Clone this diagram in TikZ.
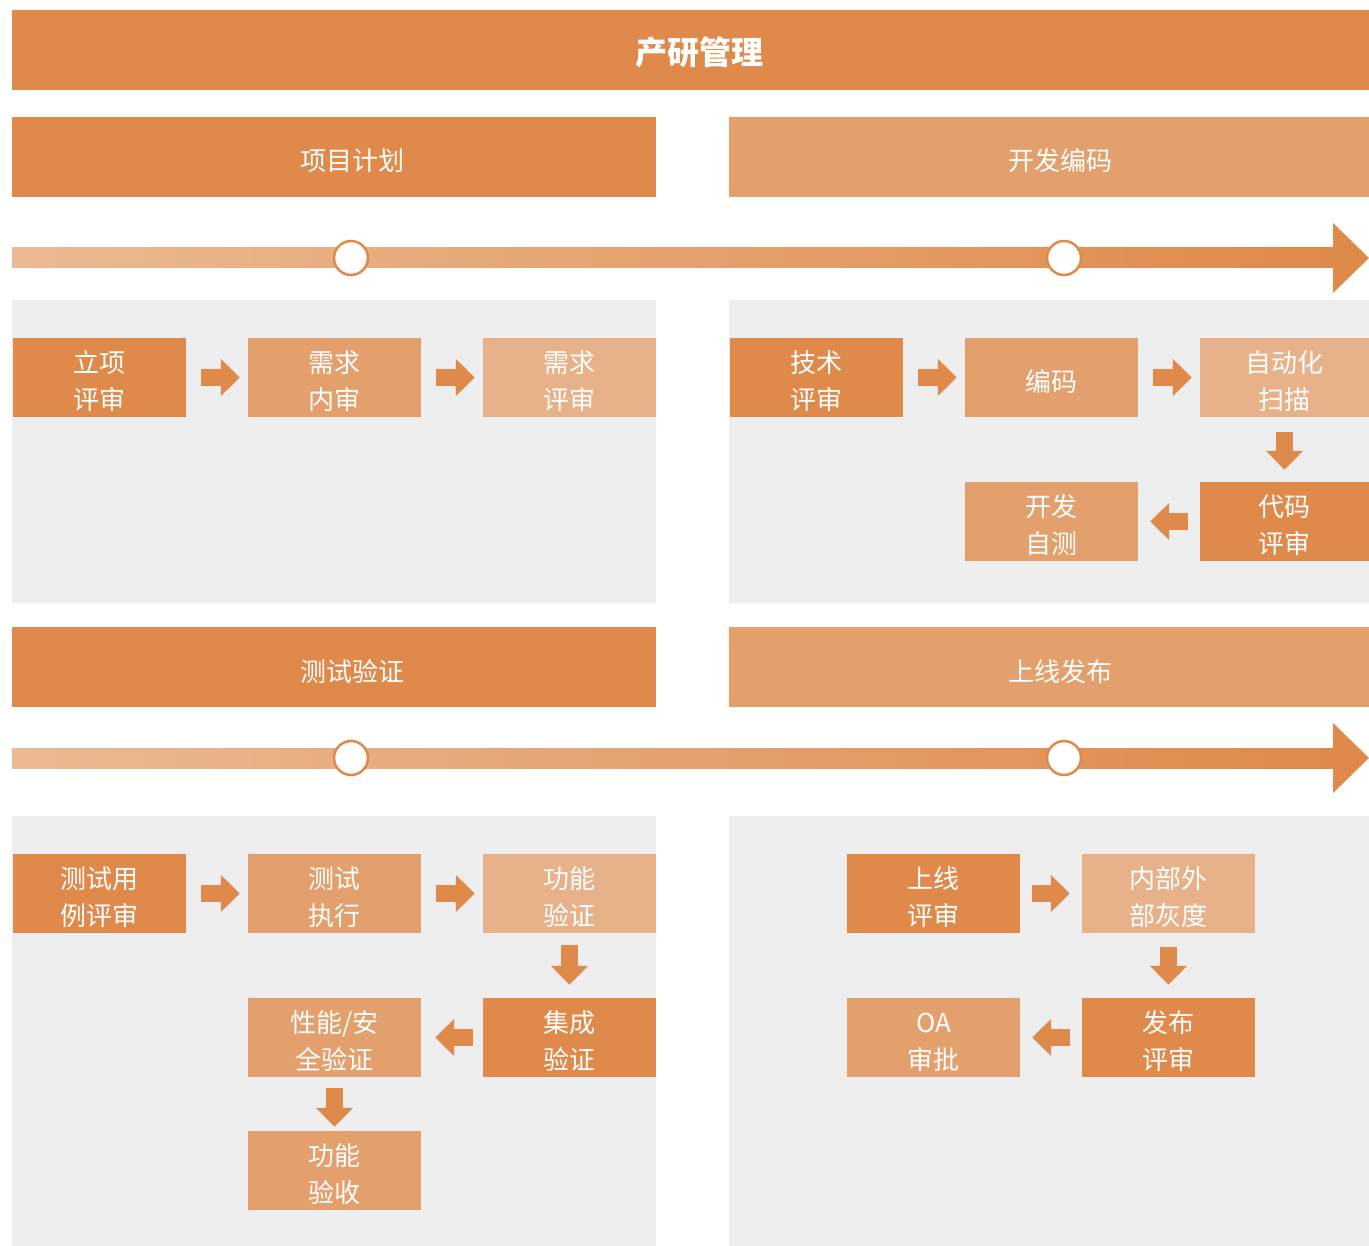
\documentclass[tikz,border=0pt]{standalone}
\usepackage{fontspec}
\setmainfont{Noto Sans CJK SC}
\usetikzlibrary{arrows.meta}
\definecolor{darkorg}{HTML}{DF8A4B}
\definecolor{midorg}{HTML}{E3A06D}
\definecolor{lightorg}{HTML}{E7B28A}
\definecolor{paleorg}{HTML}{EBB993}
\definecolor{panelgray}{HTML}{EEEEEE}
\begin{document}
\begin{tikzpicture}[x=1pt,y=-1pt,
    box/.style={minimum width=173pt,minimum height=79pt,inner sep=0pt,
      text=white,align=center,font=\fontsize{26}{37}\selectfont,
      text height=64pt,text depth=0pt},
    head/.style={minimum width=644pt,minimum height=80pt,inner sep=0pt,
      text=white,font=\fontsize{26}{32}\selectfont,
      text height=28pt,text depth=0pt},
    mark node/.style={circle,draw=darkorg,fill=white,line width=2.5pt,
      minimum size=34pt,inner sep=0pt},
    flow/.style={draw=darkorg,line width=17pt,
      -{Triangle[length=19pt,width=36pt]},shorten <=15pt,shorten >=8pt}]

  \useasboundingbox (0,0) rectangle (1369,1246);

  % title
  \node[fill=darkorg,minimum width=1357pt,minimum height=80pt,inner sep=0pt,
    text=white,font=\fontsize{32}{38}\selectfont\bfseries,
    text height=29pt,text depth=0pt] (title) at (690.5,50) {\hspace*{18pt}产研管理};

  % grey panels
  \fill[panelgray] (12,300) rectangle (656,603);
  \fill[panelgray] (729,300) rectangle (1369,603);
  \fill[panelgray] (12,816) rectangle (656,1246);
  \fill[panelgray] (729,816) rectangle (1369,1246);

  % timelines
  \foreach \y in {258,758} {
    \shade[left color=paleorg,right color=darkorg] (12,\y-10) rectangle (1334,\y+10);
    \fill[darkorg] (1333,\y-35) -- (1369,\y) -- (1333,\y+35) -- cycle;
  }
  \node[mark node] (m1) at (351,258) {};
  \node[mark node] (m2) at (1064,258) {};
  \node[mark node] (m3) at (351,758) {};
  \node[mark node] (m4) at (1064,758) {};

  % section heads
  \node[head,fill=darkorg] (plan)    at (334,157)    {\hspace*{36pt}项目计划};
  \node[head,fill=midorg,minimum width=640pt] (coding)  at (1049,157) {\hspace*{22pt}开发编码};
  \node[head,fill=darkorg] (testing) at (334,667)    {\hspace*{36pt}测试验证};
  \node[head,fill=midorg,minimum width=640pt] (release) at (1049,667) {\hspace*{22pt}上线发布};

  % project plan
  \node[box,fill=darkorg]  (lixiang)    at (99.5,377.5)  {立项\\评审};
  \node[box,fill=midorg]   (xqneishen)  at (334.5,377.5) {需求\\内审};
  \node[box,fill=lightorg] (xqpingshen) at (569.5,377.5) {需求\\评审};

  % coding
  \node[box,fill=darkorg]  (jishu)   at (816.5,377.5)  {技术\\评审};
  \node[box,fill=midorg,text height=28pt]   (bianma)  at (1051.5,377.5) {编码};
  \node[box,fill=lightorg,minimum width=169pt] (saomiao) at (1284.5,377.5) {自动化\\扫描};
  \node[box,fill=darkorg,minimum width=169pt]  (daima)   at (1284.5,521.5) {代码\\评审};
  \node[box,fill=midorg]   (zice)    at (1051.5,521.5) {开发\\自测};

  % testing
  \node[box,fill=darkorg]  (csyongli)   at (99.5,893.5)   {测试用\\例评审};
  \node[box,fill=midorg]   (cszhixing)  at (334.5,893.5)  {测试\\执行};
  \node[box,fill=lightorg] (gnyanzheng) at (569.5,893.5)  {功能\\验证};
  \node[box,fill=darkorg]  (jcyanzheng) at (569.5,1037.5) {集成\\验证};
  \node[box,fill=midorg]   (xnanquan)   at (334.5,1037.5) {性能/安\\全验证};
  \node[box,fill=midorg]   (gnyanshou)  at (334.5,1170.5) {功能\\验收};

  % release
  \node[box,fill=darkorg]  (sxpingshen) at (933.5,893.5)   {上线\\评审};
  \node[box,fill=lightorg] (huidu)      at (1168.5,893.5)  {内部外\\部灰度};
  \node[box,fill=darkorg]  (fbpingshen) at (1168.5,1037.5) {发布\\评审};
  \node[box,fill=midorg]   (oa)         at (933.5,1037.5)  {OA\\审批};

  % flow arrows
  \path (lixiang)    edge[flow] (xqneishen);
  \path (xqneishen)  edge[flow] (xqpingshen);
  \path (jishu)      edge[flow] (bianma);
  \path (bianma)     edge[flow] (saomiao);
  \path (saomiao)    edge[flow,shorten <=15pt,shorten >=12pt] (daima);
  \path (daima)      edge[flow,shorten <=12pt,shorten >=12pt] (zice);
  \path (csyongli)   edge[flow] (cszhixing);
  \path (cszhixing)  edge[flow] (gnyanzheng);
  \path (gnyanzheng) edge[flow,shorten <=12pt,shorten >=13pt] (jcyanzheng);
  \path (jcyanzheng) edge[flow,shorten <=10pt,shorten >=14pt] (xnanquan);
  \path (xnanquan)   edge[flow,shorten <=11pt,shorten >=4pt] (gnyanshou);
  \path (sxpingshen) edge[flow,shorten <=12pt,shorten >=12pt] (huidu);
  \path (huidu)      edge[flow,shorten <=14pt,shorten >=13pt] (fbpingshen);
  \path (fbpingshen) edge[flow,shorten <=12pt,shorten >=12pt] (oa);

\end{tikzpicture}
\end{document}
